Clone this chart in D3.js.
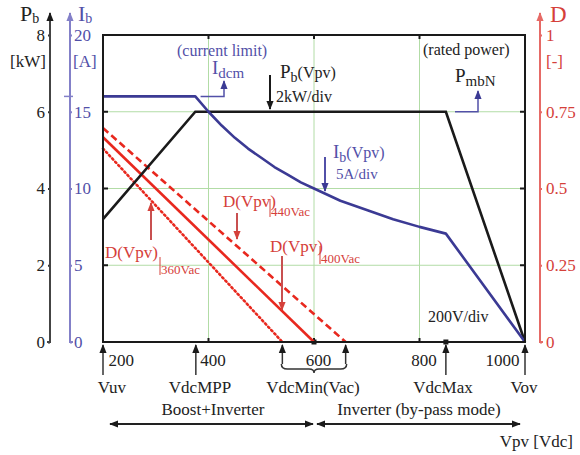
<!DOCTYPE html>
<html>
<head>
<meta charset="utf-8">
<script src="https://cdn.jsdelivr.net/npm/d3@7"></script>
<style>
  body { margin: 0; background: #fff; }
  svg text { font-family: "Liberation Serif", "DejaVu Serif", serif; }
</style>
</head>
<body>
<div id="chart"></div>
<script>
// axis ticks
var vTicks = [200, 400, 600, 800, 1000];
var pTicks = [0, 2, 4, 6, 8];
var iTicks = [0, 5, 10, 15, 20];
var dTicks = [0, 0.25, 0.5, 0.75, 1];
var dTickLabels = ["0", "0.25", "0.5", "0.75", "1"];

// Pb(Vpv) [kW]
var pbV   = [200, 375, 850, 1000];
var pbVal = [3.2, 6, 6, 0];

// Ib(Vpv) [A]
var ibV   = [200, 375, 400, 425, 450, 475, 500, 525, 550, 575, 600, 650, 700, 750, 800, 850, 1000];
var ibVal = [16, 16, 15, 14.1, 13.3, 12.6, 12, 11.4, 10.9, 10.4, 10, 9.2, 8.6, 8, 7.5, 7.06, 0];

// D(Vpv) for each grid voltage: value at 200 V and voltage where D reaches 0
var vacNames = ["360Vac", "400Vac", "440Vac"];
var dAt200   = [0.63, 0.667, 0.697];
var dZeroV   = [540, 600, 660];

// marked voltages under the axis
var markV    = [200, 376, 850, 1000];
var markName = ["Vuv", "VdcMPP", "VdcMax", "Vov"];

var margin = {top: 35, right: 55, bottom: 113, left: 103},
    width = 580 - margin.left - margin.right,
    height = 455 - margin.top - margin.bottom;

var serif = "'Liberation Serif', 'DejaVu Serif', serif";
var black = "#1a1a1a", blue = "#3b3a94", blueTxt = "#5250a8", blueAx = "#8380c8",
    red = "#e8281e", redTxt = "#d5403a", redAx = "#e66a66", green = "#b2dca6";

var svg = d3.select("#chart")
    .append("svg")
        .attr("width", 580)
        .attr("height", 455)
        .attr("font-family", serif);

var defs = svg.append("defs");
function marker(id, color) {
    defs.append("marker")
        .attr("id", id)
        .attr("viewBox", "0 -5 10 10")
        .attr("refX", 9).attr("refY", 0)
        .attr("markerWidth", 9).attr("markerHeight", 9)
        .attr("markerUnits", "userSpaceOnUse")
        .attr("orient", "auto-start-reverse")
      .append("path")
        .attr("d", "M0,-4L10,0L0,4Z")
        .attr("fill", color);
}
marker("ab", black); marker("abl", blue); marker("ar", redTxt);
marker("abx", blueAx); marker("arx", redAx);

var g = svg.append("g")
    .attr("transform", "translate(" + margin.left + "," + margin.top + ")");

var x  = d3.scaleLinear().domain([200, 1000]).range([0, width]);
var yP = d3.scaleLinear().domain([0, 8]).range([height, 0]);
var yI = d3.scaleLinear().domain([0, 20]).range([height, 0]);
var yD = d3.scaleLinear().domain([0, 1]).range([height, 0]);

// grid
g.selectAll(".gx").data([400, 600, 800]).enter().append("line")
    .attr("x1", d => x(d)).attr("x2", d => x(d))
    .attr("y1", 0).attr("y2", height)
    .attr("stroke", green).attr("stroke-width", 1);
g.selectAll(".gy").data([2, 4, 6]).enter().append("line")
    .attr("y1", d => yP(d)).attr("y2", d => yP(d))
    .attr("x1", 0).attr("x2", width)
    .attr("stroke", green).attr("stroke-width", 1);

// inner ticks on the frame
[0, height].forEach(function(yy, k) {
    g.selectAll(null).data([400, 600, 800]).enter().append("line")
        .attr("x1", d => x(d)).attr("x2", d => x(d))
        .attr("y1", yy).attr("y2", k ? yy - 4 : yy + 4)
        .attr("stroke", black).attr("stroke-width", 2);
});
[0, width].forEach(function(xx, k) {
    g.selectAll(null).data([2, 4, 6]).enter().append("line")
        .attr("y1", d => yP(d)).attr("y2", d => yP(d))
        .attr("x1", xx).attr("x2", k ? xx - 5 : xx + 5)
        .attr("stroke", black).attr("stroke-width", 2);
});
g.selectAll(null).data([600, 850]).enter().append("rect")
    .attr("x", d => x(d) - 2.5).attr("y", height - 2.5)
    .attr("width", 5).attr("height", 5).attr("fill", black);

// D(Vpv) lines
var dashes = ["1.5,3", null, "7,4"];
vacNames.forEach(function(name, i) {
    g.append("line")
        .attr("x1", x(200)).attr("y1", yD(dAt200[i]))
        .attr("x2", x(dZeroV[i])).attr("y2", yD(0))
        .attr("stroke", red)
        .attr("stroke-width", 2.6)
        .attr("stroke-linecap", i === 0 ? "round" : "butt")
        .attr("stroke-dasharray", dashes[i]);
});

// Pb(Vpv)
g.append("path")
    .datum(d3.zip(pbV, pbVal))
    .attr("fill", "none").attr("stroke", black).attr("stroke-width", 2.6)
    .attr("d", d3.line().x(d => x(d[0])).y(d => yP(d[1])));

// Ib(Vpv)
g.append("path")
    .datum(d3.zip(ibV, ibVal))
    .attr("fill", "none").attr("stroke", blue).attr("stroke-width", 2.6)
    .attr("stroke-linejoin", "round")
    .attr("d", d3.line().x(d => x(d[0])).y(d => yI(d[1])));

// frame
g.append("rect")
    .attr("width", width).attr("height", height)
    .attr("fill", "none").attr("stroke", black).attr("stroke-width", 2);

function serifText(sel, color) {
    sel.attr("font-size", 17).attr("fill", color)
       .attr("font-family", serif).style("font-family", serif);
}

// x tick labels
var xAxis = g.append("g")
    .attr("transform", "translate(0," + height + ")")
    .call(d3.axisBottom(x).tickValues(vTicks).tickFormat(d3.format("d")).tickSize(0).tickPadding(12));
xAxis.attr("font-family", serif);
xAxis.select(".domain").remove();
serifText(xAxis.selectAll("text"), "#222");
xAxis.selectAll("text")
    .attr("text-anchor", d => d === 200 ? "start" : d === 1000 ? "end" : "middle")
    .attr("dx", d => d === 200 ? 5 : d === 1000 ? -6 : 4);

// left Pb axis
var pAx = g.append("g").attr("transform", "translate(-53,0)")
    .call(d3.axisLeft(yP).tickValues(pTicks).tickSize(2).tickPadding(3));
pAx.attr("font-family", serif);
pAx.select(".domain").remove();
pAx.selectAll("line").attr("stroke", "#333").attr("stroke-width", 2);
serifText(pAx.selectAll("text"), "#222");
pAx.append("path").attr("d", "M-3," + height + "H0V-22")
    .attr("fill", "none").attr("stroke", "#444").attr("stroke-width", 2)
    .attr("marker-end", "url(#ab)");

// Ib axis
var iAx = g.append("g").attr("transform", "translate(-33,0)")
    .call(d3.axisRight(yI).tickValues(iTicks).tickSize(2).tickPadding(2));
iAx.attr("font-family", serif);
iAx.select(".domain").remove();
iAx.selectAll("line").attr("stroke", blueAx).attr("stroke-width", 2);
serifText(iAx.selectAll("text"), blueTxt);
iAx.append("path").attr("d", "M3," + height + "H0V-22")
    .attr("fill", "none").attr("stroke", blueAx).attr("stroke-width", 2)
    .attr("marker-end", "url(#abx)");
iAx.append("line").attr("x1", -6).attr("x2", 3)
    .attr("y1", yI(16)).attr("y2", yI(16))
    .attr("stroke", blueAx).attr("stroke-width", 1.5);

// D axis
var dAx = g.append("g").attr("transform", "translate(" + (width + 15) + ",0)")
    .call(d3.axisRight(yD).tickValues(dTicks).tickSize(2).tickPadding(4)
        .tickFormat((d, i) => dTickLabels[i]));
dAx.attr("font-family", serif);
dAx.select(".domain").remove();
dAx.selectAll("line").attr("stroke", redAx).attr("stroke-width", 2);
serifText(dAx.selectAll("text"), redTxt);
dAx.append("path").attr("d", "M3," + height + "H0V-22")
    .attr("fill", "none").attr("stroke", redAx).attr("stroke-width", 2)
    .attr("marker-end", "url(#arx)");

// axis titles
function sub(sel, main, s, size, subSize, dy) {
    sel.append("tspan").text(main).attr("font-size", size);
    sel.append("tspan").text(s).attr("font-size", subSize).attr("dy", dy || 4);
    return sel;
}
sub(svg.append("text").attr("x", 20).attr("y", 21).attr("fill", "#222"), "P", "b", 22, 14, 2);
svg.append("text").attr("x", 10).attr("y", 67).attr("font-size", 17).attr("fill", "#222").text("[kW]");
sub(svg.append("text").attr("x", 78).attr("y", 21).attr("fill", blueTxt), "I", "b", 22, 14, 2);
svg.append("text").attr("x", 73).attr("y", 67).attr("font-size", 17).attr("fill", blueTxt).text("[A]");
svg.append("text").attr("x", 550).attr("y", 22).attr("font-size", 23).attr("fill", redTxt).text("D");
svg.append("text").attr("x", 546).attr("y", 67).attr("font-size", 17).attr("fill", redTxt).text("[-]");

// annotations in the plot
svg.append("text").attr("x", 177).attr("y", 56).attr("font-size", 16).attr("fill", blueTxt).text("(current limit)");
sub(svg.append("text").attr("x", 212).attr("y", 74).attr("fill", blueTxt), "I", "dcm", 19, 15);
svg.append("path").attr("d", "M" + (margin.left + x(385)) + "," + (margin.top + yI(16)) + "H224V81")
    .attr("fill", "none").attr("stroke", blueTxt).attr("stroke-width", 1.5).attr("marker-end", "url(#abl)");

var pbT = sub(svg.append("text").attr("x", 280).attr("y", 78).attr("fill", "#222"), "P", "b", 19, 14);
pbT.append("tspan").text("(Vpv)").attr("font-size", 16).attr("dy", -4);
svg.append("text").attr("x", 276).attr("y", 102).attr("font-size", 16).attr("fill", "#222").text("2kW/div");
svg.append("line").attr("x1", 270).attr("x2", 270).attr("y1", 75).attr("y2", 109)
    .attr("stroke", black).attr("stroke-width", 2).attr("marker-end", "url(#ab)");

svg.append("text").attr("x", 423).attr("y", 55).attr("font-size", 16).attr("fill", "#222").text("(rated power)");
sub(svg.append("text").attr("x", 455).attr("y", 82).attr("fill", "#222"), "P", "mbN", 19, 15);
svg.append("path").attr("d", "M455," + (margin.top + yP(6)) + "H478V91")
    .attr("fill", "none").attr("stroke", blueTxt).attr("stroke-width", 1.5).attr("marker-end", "url(#abl)");

var ibT = sub(svg.append("text").attr("x", 333).attr("y", 158).attr("fill", blueTxt), "I", "b", 19, 14);
ibT.append("tspan").text("(Vpv)").attr("font-size", 16).attr("dy", -4);
svg.append("text").attr("x", 336).attr("y", 179).attr("font-size", 15).attr("fill", blueTxt).text("5A/div");
svg.append("line").attr("x1", 325).attr("x2", 325).attr("y1", 157).attr("y2", 191)
    .attr("stroke", blueTxt).attr("stroke-width", 2).attr("marker-end", "url(#abl)");

svg.append("text").attr("x", 428).attr("y", 322).attr("font-size", 16).attr("fill", "#222").text("200V/div");

// D labels: text x, baseline, sub x, sub baseline, arrow x, arrow from, arrow to
var dLab = [[105, 258, 160, 274, 151, 240, 203],
            [270, 252, 320, 263, 282, 256, 310],
            [223, 207, 270, 216, 237, 213, 239]];
vacNames.forEach(function(name, i) {
    var p = dLab[i];
    svg.append("line").attr("x1", p[4]).attr("x2", p[4]).attr("y1", p[5]).attr("y2", p[6])
        .attr("stroke", "#c85050").attr("stroke-width", 2).attr("marker-end", "url(#ar)");
    svg.append("text").attr("x", p[0]).attr("y", p[1]).attr("font-size", 17).attr("fill", redTxt).text("D(Vpv)");
    svg.append("line").attr("x1", p[2]).attr("x2", p[2]).attr("y1", p[3] - 17).attr("y2", p[3] + 1)
        .attr("stroke", redTxt).attr("stroke-width", 1);
    svg.append("text").attr("x", p[2] + 1).attr("y", p[3]).attr("font-size", 13).attr("fill", redTxt).text(name);
});

// marks under the x axis
var bx = d3.scaleLinear().domain(x.domain()).range([margin.left, margin.left + width]);
var by = margin.top + height;
markV.forEach(function(v, i) {
    svg.append("line").attr("x1", bx(v)).attr("x2", bx(v)).attr("y1", by + 33).attr("y2", by + 3)
        .attr("stroke", "#333").attr("stroke-width", 1.5).attr("marker-end", "url(#ab)");
});
dZeroV.filter((v, i) => i !== 1).forEach(function(v) {
    svg.append("line").attr("x1", bx(v)).attr("x2", bx(v)).attr("y1", by + 22).attr("y2", by + 3)
        .attr("stroke", "#333").attr("stroke-width", 1.5).attr("marker-end", "url(#ab)");
});
// brace under VdcMin range
var b0 = bx(dZeroV[0]) - 1, b1 = bx(dZeroV[2]) + 1, bm = (b0 + b1) / 2, bt = by + 22;
svg.append("path")
    .attr("d", "M" + b0 + "," + bt + "Q" + b0 + "," + (bt + 5) + " " + (b0 + 6) + "," + (bt + 5) +
               "H" + (bm - 5) + "Q" + bm + "," + (bt + 5) + " " + bm + "," + (bt + 9) +
               "Q" + bm + "," + (bt + 5) + " " + (bm + 5) + "," + (bt + 5) +
               "H" + (b1 - 6) + "Q" + b1 + "," + (bt + 5) + " " + b1 + "," + bt)
    .attr("fill", "none").attr("stroke", "#333").attr("stroke-width", 1.5);

var nameX = [112, 200, 443, 524];
markName.forEach(function(n, i) {
    svg.append("text").attr("x", nameX[i]).attr("y", 393).attr("text-anchor", "middle")
        .attr("font-size", 17).attr("fill", "#222").text(n);
});
svg.append("text").attr("x", 313).attr("y", 393).attr("text-anchor", "middle")
    .attr("font-size", 17).attr("fill", "#222").text("VdcMin(Vac)");

// operating modes
svg.append("line").attr("x1", 110).attr("x2", 313).attr("y1", 424).attr("y2", 424)
    .attr("stroke", "#222").attr("stroke-width", 1.8)
    .attr("marker-start", "url(#ab)").attr("marker-end", "url(#ab)");
svg.append("line").attr("x1", 317).attr("x2", 520).attr("y1", 424).attr("y2", 424)
    .attr("stroke", "#222").attr("stroke-width", 1.8)
    .attr("marker-start", "url(#ab)").attr("marker-end", "url(#ab)");
svg.append("text").attr("x", 213).attr("y", 415).attr("text-anchor", "middle")
    .attr("font-size", 17).attr("fill", "#222").text("Boost+Inverter");
svg.append("text").attr("x", 419).attr("y", 415).attr("text-anchor", "middle")
    .attr("font-size", 17).attr("fill", "#222").text("Inverter (by-pass mode)");
svg.append("text").attr("x", 573).attr("y", 447).attr("text-anchor", "end")
    .attr("font-size", 17).attr("fill", "#222").text("Vpv [Vdc]");
</script>
</body>
</html>
